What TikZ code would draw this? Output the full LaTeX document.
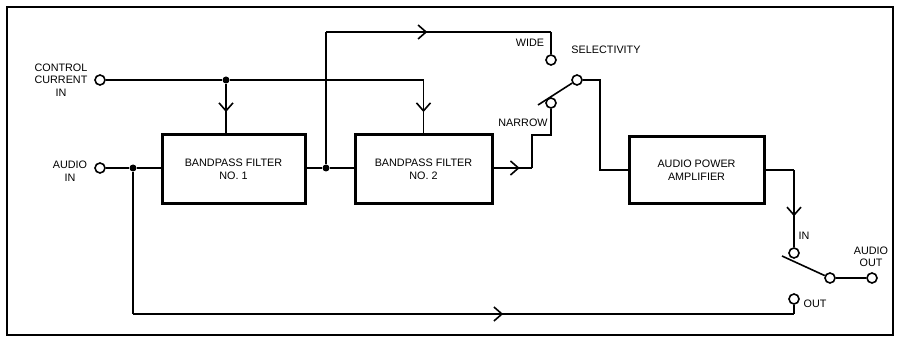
\documentclass[tikz,border=0pt]{standalone}
\usepackage{fontspec}
\setmainfont{Liberation Sans}
\usetikzlibrary{arrows.meta,decorations.markings}

\begin{document}
\begin{tikzpicture}[x=1pt,y=-1pt,
  wire/.style={line width=1.6pt},
  blk/.style={draw,line width=3pt,align=center,inner sep=0pt,
    font=\fontsize{10.8}{13}\selectfont},
  port/.style={draw,circle,line width=1.6pt,fill=white,minimum size=10pt,inner sep=0pt},
  dot/.style={circle,fill,minimum size=7pt,inner sep=0pt},
  lbl/.style={align=center,inner sep=0pt,font=\fontsize{10.8}{12.5}\selectfont},
  midarr/.style={postaction={decorate},decoration={markings,
    mark=at position #1 with {\arrow{Straight Barb[length=8pt,width=14pt,line width=1.6pt]}}}}]
  \useasboundingbox (0,0) rectangle (897,342);
  \draw[line width=2pt] (7,7) rectangle (893,335);

  % blocks
  \node[blk,minimum width=143pt,minimum height=68pt] (bpf1) at (233.5,169) {BANDPASS FILTER\\NO. 1};
  \node[blk,minimum width=137pt,minimum height=68pt] (bpf2) at (423.5,169) {BANDPASS FILTER\\NO. 2};
  \node[blk,minimum width=135pt,minimum height=66pt] (amp) at (696.5,170) {AUDIO POWER\\AMPLIFIER};

  % terminals and switch contacts
  \node[port] (ctl) at (100,80) {};
  \node[port] (ain) at (100,168) {};
  \node[port] (wide) at (551,60) {};
  \node[port] (narrow) at (551,103) {};
  \node[port] (sel) at (577,80) {};
  \node[port] (swin) at (794,253) {};
  \node[port] (swout) at (794,299) {};
  \node[port] (outc) at (830,278) {};
  \node[port] (aout) at (872,278) {};

  % junctions
  \node[dot] (j1) at (226,80) {};
  \node[dot] (j2) at (133,168) {};
  \node[dot] (j3) at (326,168) {};

  % labels
  \node[lbl] (ctllbl) at (61,80) {CONTROL\\CURRENT\\IN};
  \node[lbl] (ainlbl) at (70,171) {AUDIO\\IN};
  \node[lbl] (widelbl) at (530,43) {WIDE};
  \node[lbl] (narlbl) at (523,123) {NARROW};
  \node[lbl] (sellbl) at (606,50) {SELECTIVITY};
  \node[lbl] (inlbl) at (804,236) {IN};
  \node[lbl] (outlbl) at (815,304) {OUT};
  \node[lbl] (aoutlbl) at (871,257) {AUDIO\\OUT};

  % control current
  \coordinate (c2) at (bpf2.north |- j1);
  \draw[wire] (ctl) -- (j1) -- (c2);
  \draw[wire,midarr=0.57] (j1) -- (j1 |- bpf1.north);
  \draw[wire,midarr=0.6] (c2) -- (bpf2.north);

  % audio path
  \draw[wire] (ain) -- (j2) -- (bpf1.west |- j2);
  \draw[wire] (bpf1.east |- j3) -- (j3) -- (bpf2.west |- j3);

  % wide path
  \coordinate (w1) at (326,32);
  \coordinate (w2) at (wide |- w1);
  \draw[wire] (j3) -- (w1);
  \draw[wire,midarr=0.45] (w1) -- (w2);
  \draw[wire] (w2) -- (wide);

  % narrow path
  \coordinate (n1) at (532,168);
  \coordinate (n2) at (532,135);
  \draw[wire,midarr=0.68] (bpf2.east |- n1) -- (n1);
  \draw[wire] (n1) -- (n2) -- (narrow |- n2) -- (narrow);

  % selectivity switch
  \coordinate (lev1) at (538,105);
  \draw[wire] (sel) -- (lev1);
  \coordinate (s1) at (600,80);
  \draw[wire] (sel) -- (s1) -- (s1 |- amp.west) -- (amp.west);

  % amplifier output
  \coordinate (a1) at (swin |- amp.east);
  \draw[wire] (amp.east) -- (a1);
  \draw[wire,midarr=0.6] (a1) -- (swin);

  % output switch
  \coordinate (lev2) at (782,256);
  \draw[wire] (outc) -- (lev2);
  \draw[wire] (outc) -- (aout);

  % bypass
  \coordinate (b1) at (133,314);
  \coordinate (b2) at (swout |- b1);
  \draw[wire] (j2) -- (b1);
  \draw[wire,midarr=0.56] (b1) -- (b2);
  \draw[wire] (b2) -- (swout);
\end{tikzpicture}
\end{document}
